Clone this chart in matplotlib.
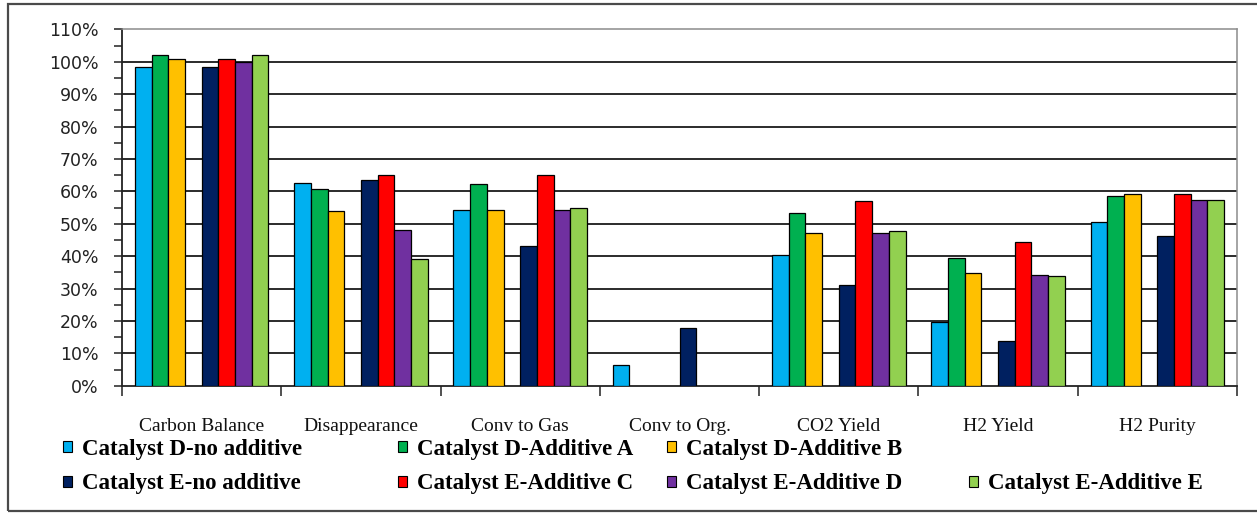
import matplotlib
matplotlib.use("Agg")
import matplotlib.pyplot as plt
import numpy as np
from matplotlib.patches import Patch, Rectangle
from matplotlib.ticker import MultipleLocator, FixedLocator, FuncFormatter, NullFormatter

# ---- data (percent) ----
categories = ["Carbon Balance", "Disappearance", "Conv to Gas", "Conv to Org.",
              "CO2 Yield", "H2 Yield", "H2 Purity"]

d_no_additive = [98.5, 62.6, 54.3, 6.4, 40.2, 19.8, 50.5]
d_additive_a = [102.2, 60.7, 62.2, 0.0, 53.3, 39.4, 58.7]
d_additive_b = [100.8, 53.8, 54.3, 0.0, 47.1, 34.7, 59.2]
e_no_additive = [98.5, 63.5, 43.2, 17.9, 31.1, 13.9, 46.2]
e_additive_c = [100.8, 64.9, 65.0, 0.0, 57.0, 44.4, 59.2]
e_additive_d = [100.0, 48.2, 54.3, 0.0, 47.1, 34.3, 57.3]
e_additive_e = [102.2, 39.2, 54.8, 0.0, 47.7, 33.8, 57.3]

series_labels = ["Catalyst D-no additive", "Catalyst D-Additive A", "Catalyst D-Additive B",
                 "Catalyst E-no additive", "Catalyst E-Additive C", "Catalyst E-Additive D",
                 "Catalyst E-Additive E"]
series_values = [d_no_additive, d_additive_a, d_additive_b,
                 e_no_additive, e_additive_c, e_additive_d, e_additive_e]
series_colors = ["#00B0F0", "#00B050", "#FFC000", "#002060", "#FF0000", "#7030A0", "#92D050"]

# slot index of each series inside a category group (slot 3 stays empty)
slots = [0, 1, 2, 4, 5, 6, 7]
n_slots = 8
bar_w = 0.1048

W, H = 1257, 513
fig = plt.figure(figsize=(W / 100, H / 100), dpi=100)
ax = fig.add_axes([122 / W, 1 - 385.7 / H, (1237 - 122) / W, (385.7 - 29.3) / H])

x = np.arange(len(categories))
for vals, col, slot in zip(series_values, series_colors, slots):
    off = (slot - (n_slots - 1) / 2) * bar_w
    heights = [v if v > 0 else np.nan for v in vals]
    ax.bar(x + off, heights, width=bar_w, color=col, edgecolor="black",
           linewidth=0.9, zorder=3)

ax.set_xlim(-0.5, len(categories) - 0.5)
ax.set_ylim(0, 110)

# horizontal gridlines every 10%
for g in range(10, 110, 10):
    ax.axhline(g, color="#2b2b2b", linewidth=1.4, zorder=1)

# y axis
ax.yaxis.set_major_locator(MultipleLocator(10))
ax.yaxis.set_minor_locator(MultipleLocator(5))
ax.yaxis.set_major_formatter(FuncFormatter(lambda v, p: f"{int(round(v))}%"))
ax.tick_params(axis="y", which="both", direction="out", length=6, width=1.1,
               color="#222222", pad=11, labelsize=12.5, labelcolor="#222222")
ax.tick_params(axis="y", which="minor", length=6)

# x axis: ticks at category boundaries, labels at centres
ax.xaxis.set_major_locator(FixedLocator(np.arange(len(categories) + 1) - 0.5))
ax.xaxis.set_major_formatter(NullFormatter())
ax.xaxis.set_minor_locator(FixedLocator(x))
ax.set_xticklabels(categories, minor=True)
ax.tick_params(axis="x", which="major", direction="out", length=7, width=1.1, color="#222222")
ax.tick_params(axis="x", which="minor", length=0, pad=23)
for lbl in ax.get_xticklabels(minor=True):
    lbl.set_fontfamily("Liberation Serif")
    lbl.set_fontsize(14)
    lbl.set_color("#111111")

for s in ("left", "bottom"):
    ax.spines[s].set_color("#222222")
    ax.spines[s].set_linewidth(1.3)
for s in ("top", "right"):
    ax.spines[s].set_color("#8c8c8c")
    ax.spines[s].set_linewidth(1.1)

# legend entries placed in two rows
legend_pos = [(63, 449), (398, 449), (667, 449),
              (63, 484), (398, 484), (667, 484), (969, 484)]
for lab, col, (lx, ly) in zip(series_labels, series_colors, legend_pos):
    h = Patch(facecolor=col, edgecolor="black", linewidth=0.8)
    fig.legend([h], [lab], loc="center left", bbox_to_anchor=(lx / W, 1 - ly / H),
               frameon=False, borderpad=0, borderaxespad=0, handlelength=0.4,
               handleheight=0.4, handletextpad=0.42,
               prop={"family": "Liberation Serif", "weight": "bold", "size": 16.5})

# outer chart frame
fig.patches.append(Rectangle((8 / W, 2 / H), 1.0, 1 - 6 / H, transform=fig.transFigure,
                             fill=False, edgecolor="#4a4a4a", linewidth=1.6))

fig.savefig("out.png", dpi=100)
